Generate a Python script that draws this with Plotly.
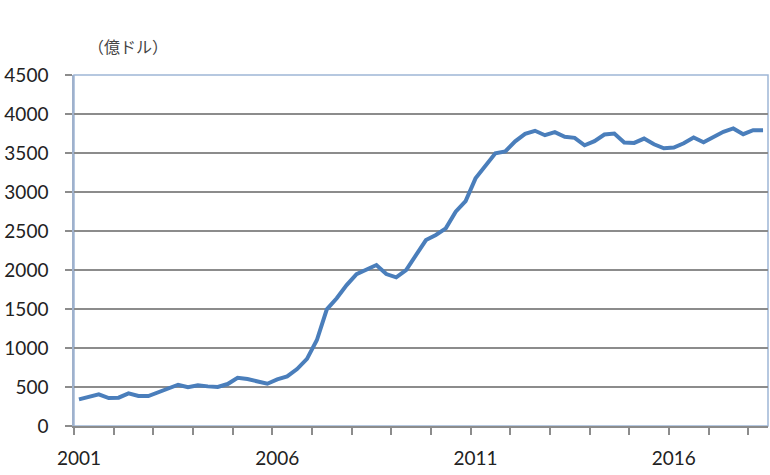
import plotly.graph_objects as go

# Quarterly data, 2001Q1 - 2018Q2 (unit: 億ドル)
start_year = 2001
values = [
    342, 375, 405, 358, 363, 418, 384, 384,
    431, 478, 529, 496, 521, 508, 500, 538,
    619, 602, 576, 542, 598, 636, 730, 860,
    1102, 1495, 1637, 1807, 1948, 2013, 2064, 1948,
    1906, 2000, 2192, 2384, 2449, 2534, 2748, 2884,
    3175, 3346, 3496, 3520, 3650, 3745, 3785, 3728,
    3767, 3707, 3694, 3599, 3651, 3737, 3750, 3634,
    3629, 3685, 3612, 3560, 3569, 3625, 3698, 3638,
    3698, 3772, 3815, 3741, 3793, 3793,
]
year_ticks = list(range(2001, 2019))
label_years = [2001, 2006, 2011, 2016]
y_ticks = [0, 500, 1000, 1500, 2000, 2500, 3000, 3500, 4000, 4500]
unit_label = "（億ドル）"

# Quarter position: centre of each quarter within its year
x = [start_year + (i // 4) + (i % 4) * 0.25 + 0.125 for i in range(len(values))]

fig = go.Figure()
fig.add_trace(go.Scatter(
    x=x, y=values, mode="lines",
    line=dict(color="#4A7EBB", width=4),
    hoverinfo="skip", showlegend=False,
))

font_family = "Lato, 'Open Sans', sans-serif"
fig.update_layout(
    width=770, height=475,
    margin=dict(l=74, r=2, t=75, b=49),
    paper_bgcolor="white", plot_bgcolor="white",
    font=dict(family=font_family, size=19, color="#222222"),
    xaxis=dict(
        range=[2001, 2018.5],
        tickvals=[yv + 0.125 for yv in label_years],
        ticktext=[str(yv) for yv in label_years],
        ticks="",
        showgrid=False,
        showline=True, linecolor="#8C8C8C", linewidth=1.5,
        zeroline=False,
        ticklabelstandoff=14,
        minor=dict(tickvals=year_ticks, ticks="outside", ticklen=7,
                   tickcolor="#8C8C8C", tickwidth=1.5, showgrid=False),
    ),
    yaxis=dict(
        range=[0, 4500],
        tickvals=y_ticks,
        ticks="outside", ticklen=7, tickcolor="#8C8C8C", tickwidth=1.5,
        showgrid=True, gridcolor="#8C8C8C", gridwidth=1.5,
        showline=True, linecolor="#9FB1CC", linewidth=1.5,
        zeroline=False,
        ticklabelstandoff=13,
    ),
    shapes=[dict(type="rect", xref="paper", yref="paper",
                 x0=0, x1=1, y0=0, y1=1, layer="between",
                 line=dict(color="#9FB6D6", width=1.5))],
    annotations=[dict(text=unit_label, xref="paper", yref="paper",
                      x=(128 - 74) / 694, y=1 + (75 - 46) / 351,
                      xanchor="center", yanchor="middle", showarrow=False,
                      font=dict(family="'Noto Sans CJK JP', sans-serif",
                                size=16, color="#444444"))],
)
fig.write_html("out.html")
